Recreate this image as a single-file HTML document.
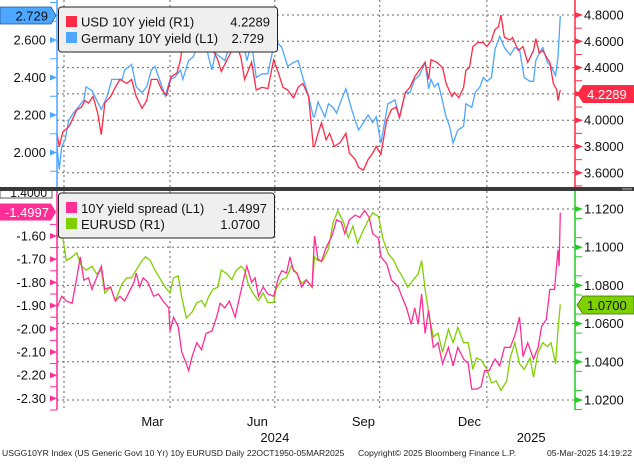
<!DOCTYPE html>
<html><head><meta charset="utf-8">
<style>
html,body{margin:0;padding:0;background:#fff;}
body{width:634px;height:460px;overflow:hidden;font-family:"Liberation Sans",sans-serif;}
svg text{font-family:"Liberation Sans",sans-serif;}
</style></head>
<body>
<svg id="chart" width="634" height="460" viewBox="0 0 634 460" xmlns="http://www.w3.org/2000/svg">
<defs>
<clipPath id="clipTop"><rect x="57" y="0" width="518" height="187"/></clipPath>
<clipPath id="clipBot"><rect x="57" y="191" width="518" height="219"/></clipPath>
</defs>
<g id="grid"></g>
<g id="series"></g>
<g id="axes"></g>
<g id="labels"></g>
</svg>
<script>
// ---- data (x = days since 2023-12-26) ----
const gerDays = [0,2,4,7,10,14,18,23,25,30,34,38,43,47,51,56,58,64,68,73,77,81,84,88,93,97,101,106,108,113,117,121,126,130,133,136,140,144,147,151,154,158,163,167,171,176,181,187,193,198,203,207,211,216,220,
221,224,230,233,237,240,244,248,253,256,259,263,267,271,274,278,284,290,294,299,303,307,311,316,319,321,324,327,330,334,337,340,344,349,351,356,359,363,366,369,373,376,380,384,389,393,397,401,406,409,411,414,417,421,424,428,430,432];
const gerVals = [2.03,1.91,2.03,2.07,2.17,2.21,2.24,2.28,2.35,2.33,2.28,2.23,2.30,2.39,2.39,2.39,2.44,2.47,2.35,2.32,2.35,2.44,2.46,2.39,2.30,2.39,2.40,2.44,2.39,2.49,2.51,2.58,2.64,2.51,2.44,2.53,2.51,2.49,2.55,2.60,2.67,2.64,2.49,2.58,2.40,2.42,2.42,2.60,2.56,2.46,2.48,2.49,2.40,2.30,2.19,
2.19,2.27,2.19,2.26,2.24,2.21,2.28,2.34,2.23,2.17,2.12,2.16,2.20,2.16,2.19,2.05,2.26,2.28,2.19,2.32,2.32,2.39,2.41,2.48,2.34,2.39,2.35,2.37,2.30,2.19,2.14,2.05,2.12,2.14,2.26,2.24,2.32,2.35,2.40,2.38,2.40,2.55,2.62,2.56,2.52,2.56,2.55,2.40,2.38,2.38,2.49,2.53,2.56,2.48,2.46,2.41,2.51,2.729];
const usdDays = [0,2,5,10,13,17,21,24,27,31,35,38,41,46,50,54,60,64,68,73,77,81,86,90,94,98,103,106,108,113,117,121,126,130,134,138,141,146,150,154,158,161,167,171,176,181,186,190,194,198,203,207,211,216,220,
221,224,227,231,234,238,243,248,251,256,259,263,267,271,274,278,283,287,291,294,299,303,307,311,316,319,321,326,331,334,339,341,345,349,351,354,357,361,366,369,373,376,379,381,384,389,391,396,400,404,409,411,414,417,420,423,426,429,430,432];
const usdVals = [3.90,3.80,3.91,3.95,4.00,4.08,4.10,4.15,4.13,4.18,4.05,3.89,4.13,4.18,4.25,4.31,4.28,4.31,4.18,4.09,4.15,4.31,4.31,4.23,4.19,4.33,4.36,4.46,4.59,4.66,4.63,4.71,4.66,4.59,4.53,4.46,4.37,4.46,4.53,4.59,4.47,4.31,4.44,4.23,4.25,4.24,4.46,4.36,4.25,4.23,4.17,4.25,4.28,4.18,3.80,
3.80,3.90,3.98,3.85,3.90,3.80,3.83,3.90,3.75,3.70,3.64,3.62,3.70,3.75,3.80,3.74,4.00,4.08,4.10,4.02,4.21,4.25,4.33,4.38,4.44,4.31,4.46,4.44,4.40,4.28,4.18,4.21,4.17,4.25,4.38,4.40,4.56,4.59,4.59,4.56,4.61,4.69,4.71,4.80,4.63,4.61,4.63,4.53,4.56,4.44,4.53,4.62,4.51,4.53,4.48,4.44,4.28,4.23,4.15,4.2289];
const sprDays = [0,4,8,13,17,20,23,27,30,34,38,41,46,50,54,58,63,66,68,71,74,78,83,87,91,96,97,100,104,107,111,113,116,120,124,128,133,137,140,144,148,153,156,160,163,167,170,173,177,181,186,190,193,197,200,203,206,210,214,219,
221,224,227,231,236,240,244,247,251,256,260,264,268,271,276,278,283,287,293,296,300,304,307,310,313,316,319,323,327,331,336,340,344,349,353,356,360,364,367,371,376,380,384,389,393,397,400,404,409,413,416,420,423,427,430,431,432];
const sprVals = [-1.91,-1.86,-1.88,-1.89,-1.78,-1.69,-1.79,-1.78,-1.83,-1.78,-1.73,-1.83,-1.82,-1.88,-1.86,-1.88,-1.83,-1.80,-1.76,-1.82,-1.78,-1.80,-1.86,-1.85,-1.88,-1.91,-2.01,-1.95,-1.99,-2.10,-2.15,-2.18,-2.12,-2.06,-2.09,-2.02,-2.01,-1.95,-1.89,-1.91,-1.88,-1.95,-1.88,-1.79,-1.73,-1.80,-1.78,-1.86,-1.82,-1.85,-1.86,-1.78,-1.75,-1.76,-1.69,-1.75,-1.76,-1.82,-1.79,-1.82,
-1.60,-1.70,-1.71,-1.65,-1.60,-1.53,-1.54,-1.59,-1.53,-1.51,-1.52,-1.49,-1.52,-1.59,-1.61,-1.69,-1.72,-1.79,-1.82,-1.86,-1.91,-1.98,-1.91,-1.98,-1.85,-2.02,-1.92,-2.08,-2.06,-2.15,-2.08,-2.16,-2.08,-2.13,-2.15,-2.26,-2.26,-2.25,-2.18,-2.18,-2.13,-2.16,-2.08,-2.08,-2.03,-1.95,-2.12,-2.06,-2.13,-2.08,-1.99,-1.96,-1.83,-1.83,-1.66,-1.73,-1.4997];
const eurDays = [0,3,5,8,13,17,21,25,30,34,38,41,46,50,56,60,64,68,73,76,80,84,88,93,97,100,104,107,111,116,120,124,127,130,134,138,141,146,150,154,158,161,164,168,173,177,181,186,188,193,197,201,206,210,214,219,
221,224,228,233,237,241,246,250,254,258,263,267,271,276,280,284,289,293,297,301,306,310,313,316,319,323,327,331,336,340,344,349,353,357,360,364,369,373,377,381,386,389,393,397,401,406,409,413,417,421,424,428,430,432];
const eurVals = [1.104,1.110,1.105,1.093,1.095,1.097,1.090,1.088,1.090,1.086,1.088,1.076,1.079,1.072,1.081,1.084,1.084,1.088,1.093,1.095,1.093,1.088,1.084,1.079,1.076,1.084,1.085,1.074,1.063,1.066,1.071,1.072,1.069,1.074,1.078,1.079,1.088,1.086,1.083,1.088,1.090,1.088,1.081,1.076,1.072,1.076,1.071,1.071,1.078,1.083,1.084,1.090,1.086,1.081,1.083,1.079,
1.095,1.093,1.093,1.099,1.113,1.119,1.113,1.105,1.111,1.102,1.109,1.114,1.118,1.116,1.104,1.097,1.093,1.088,1.084,1.079,1.083,1.086,1.093,1.078,1.066,1.053,1.055,1.045,1.057,1.050,1.058,1.050,1.050,1.036,1.042,1.041,1.036,1.029,1.030,1.025,1.030,1.042,1.050,1.039,1.036,1.042,1.032,1.045,1.050,1.048,1.050,1.039,1.057,1.070];
const gridDays = [6,97,187,277,369];
const monthLabels = ["Mar","Jun","Sep","Dec"];
const monthDays = [82,172,263,354];
const yearLabels = ["2024","2025"];
const yearDays = [187,407];
const gerTicks = [2.0,2.2,2.4,2.6];
const usdTicks = [3.6,3.8,4.0,4.2,4.4,4.6,4.8];
const sprTicks = [-2.3,-2.2,-2.1,-2.0,-1.9,-1.8,-1.7,-1.6];
const eurTicks = [1.02,1.04,1.06,1.08,1.10,1.12];

// ---- scales ----
const xS = d => 57 + d*1.165;
const gerY = v => 40 - (v-2.6)*187.5;
const usdY = v => 15 + (4.8-v)*131.5;
const sprY = v => 236 + (-1.6-v)*232;
const eurY = v => 209 + (1.12-v)*1910;

const NS="http://www.w3.org/2000/svg";
function mk(tag, attrs, parent){const e=document.createElementNS(NS,tag);for(const k in attrs)e.setAttribute(k,attrs[k]);parent.appendChild(e);return e;}
const G=document.getElementById('grid'),S=document.getElementById('series'),A=document.getElementById('axes'),L=document.getElementById('labels');

// grid lines (follow right axes)
usdTicks.forEach(v=>{const y=usdY(v);const l=mk('line',{x1:57,x2:575,y1:y,y2:y,stroke:'#666','stroke-dasharray':'2,3','stroke-width':1},G);

});
eurTicks.forEach(v=>{const l=mk('line',{x1:57,x2:575,y1:eurY(v),y2:eurY(v),stroke:'#666','stroke-dasharray':'2,3','stroke-width':1},G);

});
gridDays.forEach(d=>{[[0,187],[191,410]].forEach(r=>{const l=mk('line',{x1:xS(d),x2:xS(d),y1:r[0],y2:r[1],stroke:'#666','stroke-dasharray':'2,3','stroke-width':1},G);

});});

// series
function path(days,vals,ys){return days.map((d,i)=>(i?'L':'M')+xS(d).toFixed(1)+','+ys(vals[i]).toFixed(1)).join('');}
const gT=mk('g',{'clip-path':'url(#clipTop)'},S), gB=mk('g',{'clip-path':'url(#clipBot)'},S);
let p;
p=mk('path',{d:path(gerDays,gerVals,gerY),fill:'none',stroke:'#4da6ff','stroke-width':1.3},gT);


p=mk('path',{d:path(usdDays,usdVals,usdY),fill:'none',stroke:'#ff2a45','stroke-width':1.3},gT);


p=mk('path',{d:path(eurDays,eurVals,eurY),fill:'none',stroke:'#7fd000','stroke-width':1.3},gB);


p=mk('path',{d:path(sprDays,sprVals,sprY),fill:'none',stroke:'#ff2d96','stroke-width':1.3},gB);



// axes
function axis(x,y1,y2,color,name){const l=mk('line',{x1:x,x2:x,y1:y1,y2:y2,stroke:color,'stroke-width':1.5},A);

}
axis(57,0,187,'#4da6ff','left-axis-top');
axis(57,191,410,'#ff2d96','left-axis-bottom');
axis(575,0,187,'#ff2a45','right-axis-top');
axis(575,191,410,'#22cc22','right-axis-bottom');

function leftTicks(ticks,ys,color,fmt,step,lo,hi,name){
  for(let v=lo;v<=hi+1e-9;v+=step){const y=ys(v);if(y<0||y>410)continue;mk('line',{x1:50,x2:57,y1:y,y2:y,stroke:color,'stroke-width':1},A);}
  ticks.forEach(v=>{const y=ys(v);mk('polygon',{points:`50,${y-3} 57,${y} 50,${y+3}`,fill:color},A);
    const t=mk('text',{x:46,y:y+4.5,'text-anchor':'end','font-size':13,fill:'#111'},L);t.textContent=fmt(v);
    
    });
}
function rightTicks(ticks,ys,color,fmt,step,lo,hi,name){
  for(let v=lo;v<=hi+1e-9;v+=step){const y=ys(v);mk('line',{x1:575,x2:582,y1:y,y2:y,stroke:color,'stroke-width':1},A);}
  ticks.forEach(v=>{const y=ys(v);mk('polygon',{points:`575,${y-3} 583,${y} 575,${y+3}`,fill:color},A);
    const t=mk('text',{x:584,y:y+4.5,'font-size':13,fill:'#111'},L);t.textContent=fmt(v);
    
    });
}
leftTicks(gerTicks,gerY,'#4da6ff',v=>v.toFixed(3),0.1,1.8,2.8,'germany-axis-tick-label');
leftTicks(sprTicks,sprY,'#ff2d96',v=>v.toFixed(2),0.05,-2.35,-1.55,'spread-axis-tick-label');
rightTicks(usdTicks,usdY,'#ff2a45',v=>v.toFixed(4),0.1,3.5,4.8,'usd-axis-tick-label');
rightTicks(eurTicks,eurY,'#22cc22',v=>v.toFixed(4),0.01,1.015,1.12,'eurusd-axis-tick-label');

monthLabels.forEach((m,i)=>{const t=mk('text',{x:xS(monthDays[i]),y:426,'text-anchor':'middle','font-size':13,fill:'#111'},L);t.textContent=m;

});
yearLabels.forEach((m,i)=>{const t=mk('text',{x:xS(yearDays[i]),y:442,'text-anchor':'middle','font-size':13,fill:'#111'},L);t.textContent=m;

});
</script>
<svg style="position:absolute;left:0;top:0" width="634" height="460" xmlns="http://www.w3.org/2000/svg">
  <defs><clipPath id="clipTag"><rect x="0" y="191" width="60" height="8"/></clipPath></defs>
  <!-- panel divider -->
  <rect x="0" y="187" width="634" height="4" fill="#3a3a3a"/>
  <g><line x1="622" y1="188.3" x2="632" y2="188.3" stroke="#999" stroke-width="0.8"/><line x1="622" y1="189.8" x2="632" y2="189.8" stroke="#999" stroke-width="0.8"/></g>
  <!-- current value labels -->
  <g>
    <polygon points="0,7 51,7 56,15.5 51,24 0,24" fill="#4da6ff" stroke="#1a5a99" stroke-width="0.8"/>
    <text x="48" y="20.5" text-anchor="end" font-size="13" fill="#111">2.729</text>
  </g>
  <g clip-path="url(#clipTag)">
    <rect x="0" y="186" width="52" height="12" fill="#fff" stroke="#333" stroke-width="0.8"/>
    <text x="47" y="197" text-anchor="end" font-size="12" fill="#111">1.4000</text>
  </g>
  <g>
    <polygon points="0,203.5 51,203.5 56,212 51,220.5 0,220.5" fill="#ff2d96"/>
    <text x="49" y="217" text-anchor="end" font-size="13" fill="#fff">-1.4997</text>
  </g>
  <g>
    <polygon points="577,94 583,85 634,85 634,103 583,103" fill="#ff2a45"/>
    <text x="587" y="99" font-size="13" fill="#fff">4.2289</text>
  </g>
  <g>
    <polygon points="577,305 583,296 634,296 634,314 583,314" fill="#7fd000" stroke="#3a6a00" stroke-width="0.8"/>
    <text x="587" y="310" font-size="13" fill="#111">1.0700</text>
  </g>
  <!-- legends -->
  <g>
    <rect x="58.5" y="7" width="219" height="45" rx="3" fill="#efefef" stroke="#222" stroke-width="1"/>
    <g>
      <rect x="66" y="16" width="11" height="11" fill="#ff2a45"/>
      <text x="81" y="26.5" font-size="13" fill="#111">USD 10Y yield (R1)</text>
      <text x="270" y="26.5" text-anchor="end" font-size="13" fill="#111">4.2289</text>
    </g>
    <g>
      <rect x="66" y="32" width="11" height="11" fill="#4da6ff"/>
      <text x="81" y="43" font-size="13" fill="#111">Germany 10Y yield (L1)</text>
      <text x="264" y="43" text-anchor="end" font-size="13" fill="#111">2.729</text>
    </g>
  </g>
  <g>
    <rect x="58.5" y="193" width="216" height="45" rx="3" fill="#efefef" stroke="#222" stroke-width="1"/>
    <g>
      <rect x="66" y="202" width="11" height="11" fill="#ff2d96"/>
      <text x="81" y="213" font-size="13" fill="#111">10Y yield spread (L1)</text>
      <text x="267" y="213" text-anchor="end" font-size="13" fill="#111">-1.4997</text>
    </g>
    <g>
      <rect x="66" y="218" width="11" height="11" fill="#7fd000"/>
      <text x="81" y="229" font-size="13" fill="#111">EURUSD (R1)</text>
      <text x="260" y="229" text-anchor="end" font-size="13" fill="#111">1.0700</text>
    </g>
  </g>
  <!-- footer -->
  <text x="2" y="456" font-size="8.6" fill="#222">USGG10YR Index (US Generic Govt 10 Yr) 10y EURUSD  Daily 22OCT1950-05MAR2025</text>
  <text x="358" y="456" font-size="8.6" fill="#222">Copyright© 2025 Bloomberg Finance L.P.</text>
  <text x="632" y="456" text-anchor="end" font-size="8.6" fill="#222">05-Mar-2025 14:19:22</text>
</svg>
</body></html>
